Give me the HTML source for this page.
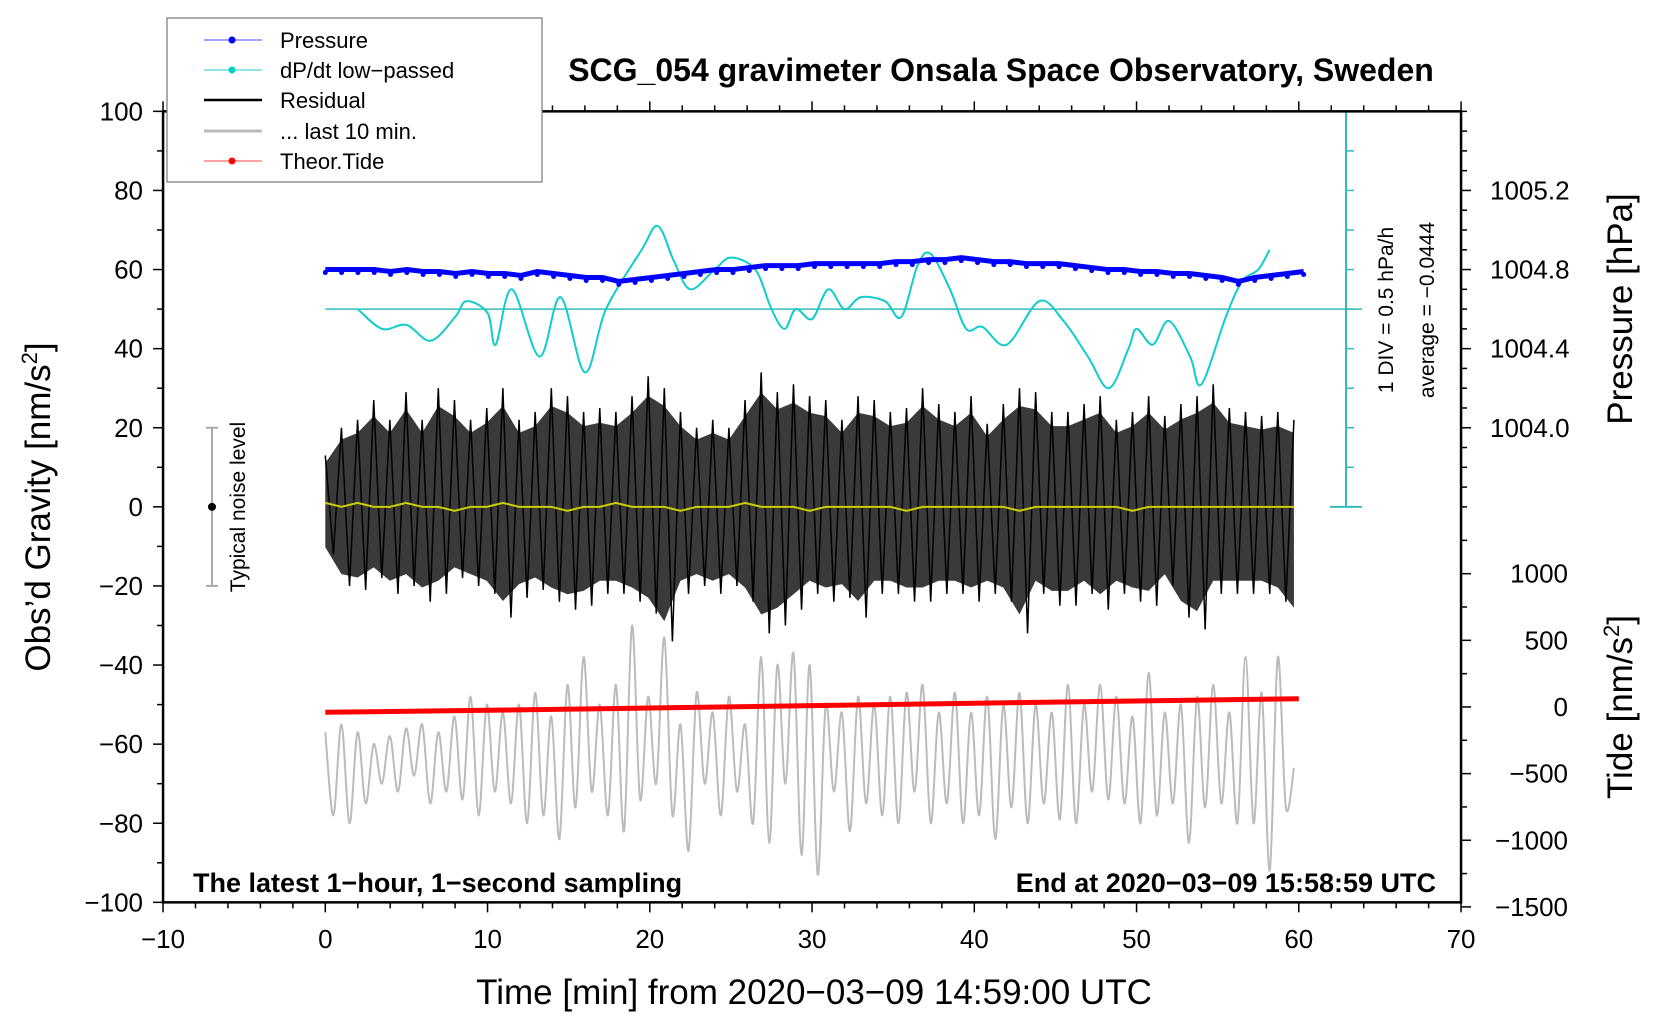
<!DOCTYPE html>
<html><head><meta charset="utf-8"><style>
html,body{margin:0;padding:0;background:#fff}
svg{display:block;font-family:"Liberation Sans",sans-serif}
</style></head><body>
<svg id="chart" width="1660" height="1020" viewBox="0 0 1660 1020" xmlns="http://www.w3.org/2000/svg">
<rect width="1660" height="1020" fill="#fff"/>
<g id="marks"></g>
<g id="axes"></g>
<text x="1001" y="81" font-size="32" font-weight="bold" text-anchor="middle">SCG_054 gravimeter Onsala Space Observatory, Sweden</text>
<text x="193" y="892" font-size="27" font-weight="bold">The latest 1−hour, 1−second sampling</text>
<text x="1436" y="892" font-size="27" font-weight="bold" text-anchor="end">End at 2020−03−09 15:58:59 UTC</text>
<text x="814" y="1004" font-size="35" text-anchor="middle">Time [min] from 2020−03−09 14:59:00 UTC</text>
<text transform="translate(50,507) rotate(-90)" font-size="35" text-anchor="middle">Obs’d Gravity [nm/s<tspan font-size="22" dy="-13">2</tspan><tspan dy="13">]</tspan></text>
<text transform="translate(1632,309) rotate(-90)" font-size="35" text-anchor="middle">Pressure [hPa]</text>
<text transform="translate(1632,707) rotate(-90)" font-size="35" text-anchor="middle">Tide [nm/s<tspan font-size="22" dy="-13">2</tspan><tspan dy="13">]</tspan></text>
<text transform="translate(1393,310) rotate(-90)" font-size="21" text-anchor="middle">1 DIV = 0.5 hPa/h</text>
<text transform="translate(1434,310) rotate(-90)" font-size="21" text-anchor="middle">average = −0.0444</text>
<text transform="translate(245,507) rotate(-90)" font-size="21" text-anchor="middle">Typical noise level</text>
<g>
<rect x="167" y="18" width="375" height="164" fill="#fff" stroke="#777" stroke-width="1.2"/>
<g><line x1="204" y1="40" x2="262" y2="40" stroke="#44f" stroke-width="1"/><circle cx="232" cy="40" r="3.5" fill="#00f"/><text x="280" y="48" font-size="22">Pressure</text></g>
<g><line x1="204" y1="70" x2="262" y2="70" stroke="#2cc" stroke-width="1"/><circle cx="232" cy="70" r="3.5" fill="#0cc"/><text x="280" y="78" font-size="22">dP/dt low−passed</text></g>
<g><line x1="204" y1="100" x2="262" y2="100" stroke="#000" stroke-width="2.5"/><text x="280" y="108" font-size="22">Residual</text></g>
<g><line x1="204" y1="131" x2="262" y2="131" stroke="#bbb" stroke-width="3"/><text x="280" y="139" font-size="22">... last 10 min.</text></g>
<g><line x1="204" y1="161" x2="262" y2="161" stroke="#f44" stroke-width="1"/><circle cx="232" cy="161" r="3.5" fill="#f00"/><text x="280" y="169" font-size="22">Theor.Tide</text></g>
</g>
</svg>
<script>
const xTicks=[-10,0,10,20,30,40,50,60,70];
const yTicks=[100,80,60,40,20,0,-20,-40,-60,-80,-100];
const pTicks=[1005.2,1004.8,1004.4,1004.0];
const tideTicks=[1000,500,0,-500,-1000,-1500];
const resHi=[13,20,22,27,22,29,22,30,27,22,25,30,22,24,30,28,24,25,24,28,33,30,24,20,22,20,27,34,29,31,28,27,22,28,27,24,25,30,26,24,28,21,26,30,29,24,24,26,28,22,24,28,23,26,28,31,25,24,23,24,22];
const resLo=[-12,-20,-21,-18,-22,-20,-24,-22,-18,-20,-22,-28,-23,-21,-24,-26,-25,-22,-22,-24,-27,-34,-22,-20,-22,-20,-24,-32,-30,-26,-22,-24,-23,-28,-22,-22,-24,-24,-22,-22,-24,-22,-24,-32,-22,-25,-25,-22,-26,-22,-24,-25,-20,-28,-31,-22,-22,-22,-22,-24,-30];
const resMean=[1,0,1,0,0,1,0,0,-1,0,0,1,0,0,0,-1,0,0,1,0,0,0,-1,0,0,0,1,0,0,0,-1,0,0,0,0,0,-1,0,0,0,0,0,0,-1,0,0,0,0,0,0,-1,0,0,0,0,0,0,0,0,0,0];
const last10=[-57,-78,-55,-80,-57,-75,-60,-70,-58,-72,-56,-68,-55,-75,-57,-72,-53,-74,-48,-78,-50,-72,-52,-75,-50,-80,-47,-78,-53,-84,-45,-76,-38,-72,-50,-78,-45,-82,-30,-74,-48,-70,-33,-78,-55,-87,-47,-70,-52,-78,-48,-72,-55,-80,-38,-85,-40,-70,-37,-88,-40,-93,-50,-72,-52,-82,-48,-75,-50,-78,-48,-80,-47,-72,-45,-80,-52,-75,-47,-80,-52,-78,-48,-84,-50,-76,-47,-80,-50,-75,-52,-79,-45,-80,-50,-72,-45,-74,-48,-75,-53,-80,-42,-78,-52,-75,-50,-85,-48,-76,-45,-75,-52,-80,-38,-80,-47,-92,-38,-76,-66];
const pressure=[1004.80,1004.80,1004.80,1004.80,1004.79,1004.80,1004.79,1004.79,1004.78,1004.79,1004.78,1004.78,1004.77,1004.79,1004.78,1004.77,1004.76,1004.76,1004.74,1004.75,1004.76,1004.77,1004.78,1004.79,1004.80,1004.80,1004.81,1004.82,1004.82,1004.82,1004.83,1004.83,1004.83,1004.83,1004.83,1004.84,1004.84,1004.85,1004.85,1004.86,1004.85,1004.84,1004.84,1004.83,1004.83,1004.83,1004.82,1004.81,1004.80,1004.80,1004.79,1004.79,1004.78,1004.78,1004.77,1004.76,1004.74,1004.76,1004.77,1004.78,1004.79];
const dpdtT=[2,3.5,5,6.5,8,8.7,10,10.5,11.5,13.2,14.5,16,17.3,19.5,20.5,21.5,22.5,24,25,26.5,27.5,28.3,29,30,31,32,33,34.5,35.5,36.5,37.3,38.5,39.5,40.5,42,44,45.5,47,48.3,49.5,50,51,52,53.3,54,55.5,56.5,57.5,58.2];
const dpdtV=[0,-0.25,-0.2,-0.4,-0.1,0.1,-0.05,-0.45,0.25,-0.6,0.15,-0.8,0,0.75,1.05,0.6,0.25,0.5,0.65,0.5,0,-0.25,0,-0.125,0.25,0,0.15,0.1,-0.1,0.55,0.7,0.25,-0.25,-0.225,-0.45,0.1,-0.15,-0.6,-1.0,-0.5,-0.25,-0.45,-0.15,-0.6,-0.95,-0.1,0.35,0.5,0.75];
const tideT=[0,10,20,30,40,50,60];
const tideV=[-40,-25,-8,10,28,45,62];

const NS='http://www.w3.org/2000/svg';
const X=t=>325.3+16.225*t;
const Y=g=>506.85-3.955*g;
const YP=p=>Y(20+(p-1004.0)/0.02);
const YT=v=>Y(-50.6+v*0.0337);
const YD=d=>Y(50+d/0.05);
function mk(tag,attrs,parent){const e=document.createElementNS(NS,tag);for(const k in attrs)e.setAttribute(k,attrs[k]);parent.appendChild(e);return e;}
const M=document.getElementById('marks');
const A=document.getElementById('axes');
function smooth(pts){let d='M'+pts[0][0]+','+pts[0][1];for(let i=0;i<pts.length-1;i++){const p0=pts[i-1]||pts[i],p1=pts[i],p2=pts[i+1],p3=pts[i+2]||p2;d+=' C'+(p1[0]+(p2[0]-p0[0])/6)+','+(p1[1]+(p2[1]-p0[1])/6)+' '+(p2[0]-(p3[0]-p1[0])/6)+','+(p2[1]-(p3[1]-p1[1])/6)+' '+p2[0]+','+p2[1];}return d;}

let bl=mk('line',{x1:X(0),y1:YD(0),x2:1362,y2:YD(0),stroke:'#3bb','stroke-width':1.5},M);


let sb=mk('g',{},M);


mk('line',{x1:1346,y1:Y(100),x2:1346,y2:Y(0),stroke:'#3bb','stroke-width':2},sb);
mk('line',{x1:1330,y1:Y(100),x2:1362,y2:Y(100),stroke:'#3bb','stroke-width':2},sb);
mk('line',{x1:1330,y1:Y(0),x2:1362,y2:Y(0),stroke:'#3bb','stroke-width':2},sb);
for(let g=10;g<100;g+=10)mk('line',{x1:1346,y1:Y(g),x2:1354,y2:Y(g),stroke:'#3bb','stroke-width':1.5},sb);

let nb=mk('g',{},M);


mk('line',{x1:212,y1:Y(20),x2:212,y2:Y(-20),stroke:'#aaa','stroke-width':2},nb);
mk('line',{x1:206,y1:Y(20),x2:218,y2:Y(20),stroke:'#aaa','stroke-width':2},nb);
mk('line',{x1:206,y1:Y(-20),x2:218,y2:Y(-20),stroke:'#aaa','stroke-width':2},nb);
mk('circle',{cx:212,cy:Y(0),r:4,fill:'#000'},nb);

let gl=mk('path',{d:smooth(last10.map((v,i)=>[X(i*0.5*0.995),Y(v)])),fill:'none',stroke:'#bbb','stroke-width':2},M);



let tp=tideT.map((t,i)=>X(t)+','+YT(tideV[i])).join(' ');
let tl=mk('polyline',{points:tp,fill:'none',stroke:'#f00','stroke-width':5},M);



let env=resHi.map((v,i)=>X(i*0.995)+','+Y(v*0.85)).concat(resLo.map((v,i)=>X(i*0.995)+','+Y(v*0.85)).reverse()).join(' ');
let re=mk('polygon',{points:env,fill:'#3a3a3a',stroke:'none'},M);


let zz=[];resHi.forEach((v,i)=>{zz.push(X(i*0.995)+','+Y(v));zz.push(X((i+0.5)*0.995)+','+Y(resLo[i]));});
zz.pop();
let rz=mk('polyline',{points:zz.join(' '),fill:'none',stroke:'#000','stroke-width':1.5},M);


let ym=mk('polyline',{points:resMean.map((v,i)=>X(i*0.995)+','+Y(v)).join(' '),fill:'none',stroke:'#cc0','stroke-width':2},M);



let dp=mk('path',{d:smooth(dpdtT.map((t,i)=>[X(t),YD(dpdtV[i])])),fill:'none',stroke:'#1cc','stroke-width':2},M);



let pl=mk('polyline',{points:pressure.map((p,i)=>X(i*1.005)+','+YP(p)).join(' '),fill:'none',stroke:'#00f','stroke-width':5},M);


pressure.forEach((p,i)=>{
  const c=mk('circle',{cx:X(i*1.005),cy:YP(p)+3,r:2.5,fill:'#00f'},M);
  
  
});

let fr=mk('rect',{x:X(-10),y:Y(100),width:X(70)-X(-10),height:Y(-100)-Y(100),fill:'none',stroke:'#000','stroke-width':2.5},A);


for(let t=-10;t<=70;t+=2){const major=t%10===0;
  mk('line',{x1:X(t),y1:Y(-100),x2:X(t),y2:Y(-100)+(major?10:6),stroke:'#000','stroke-width':1.5},A);
  mk('line',{x1:X(t),y1:Y(100),x2:X(t),y2:Y(100)-(major?10:6),stroke:'#000','stroke-width':1.5},A);}
xTicks.forEach(t=>{const e=mk('text',{x:X(t),y:948,'font-size':26,'text-anchor':'middle'},A);e.textContent=(t<0?'−'+(-t):t);
  
  });
for(let g=-100;g<=100;g+=10){const major=g%20===0;mk('line',{x1:X(-10),y1:Y(g),x2:X(-10)-(major?10:6),y2:Y(g),stroke:'#000','stroke-width':1.5},A);}
yTicks.forEach(g=>{const e=mk('text',{x:143,y:Y(g)+9,'font-size':26,'text-anchor':'end'},A);e.textContent=(g<0?'−'+(-g):g);
  
  });
for(let g=100;g>=0;g-=5){const major=(g%20===0&&g>0&&g<100);mk('line',{x1:X(70),y1:Y(g),x2:X(70)+(major?10:6),y2:Y(g),stroke:'#000','stroke-width':1.5},A);}
pTicks.forEach(p=>{const e=mk('text',{x:1490,y:YP(p)+9,'font-size':26},A);e.textContent=p.toFixed(1);
  
  });
for(let v=1250;v>=-1500;v-=250){mk('line',{x1:X(70),y1:YT(v),x2:X(70)+(v%500===0?10:6),y2:YT(v),stroke:'#000','stroke-width':1.5},A);}
tideTicks.forEach(v=>{const e=mk('text',{x:1568,y:YT(v)+9,'font-size':26,'text-anchor':'end'},A);e.textContent=(v<0?'−'+(-v):v);
  
  });
</script>
</body></html>
